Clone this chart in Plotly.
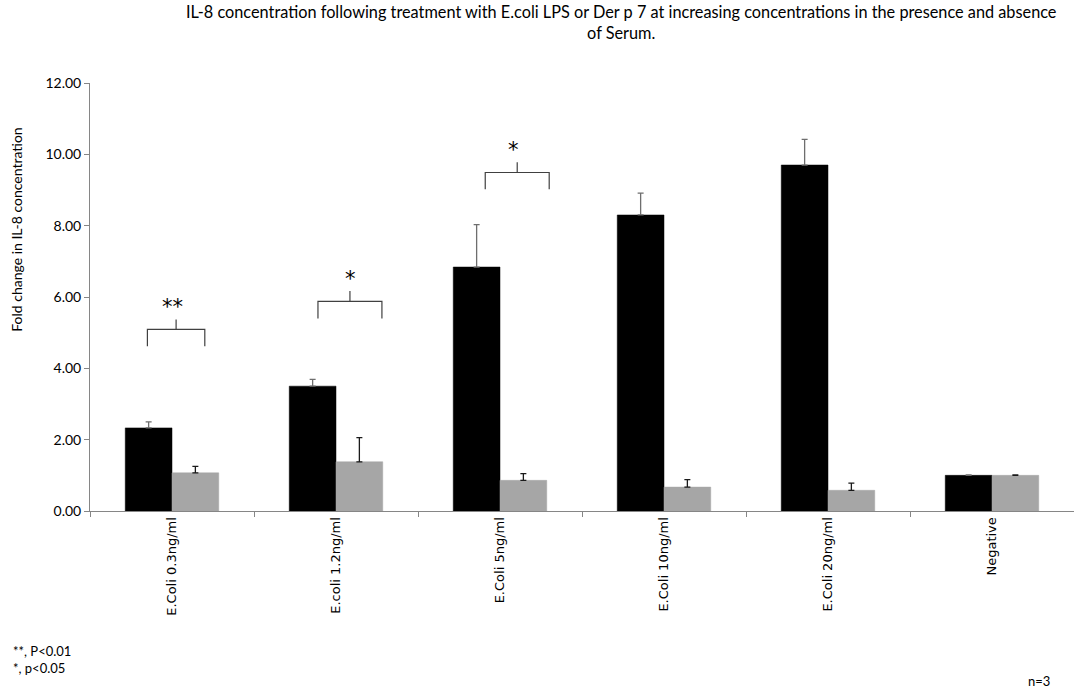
import plotly.graph_objects as go

# Treatments on the x axis
categories = ["E.Coli 0.3ng/ml", "E.coli 1.2ng/ml", "E.Coli 5ng/ml",
              "E.Coli 10ng/ml", "E.Coli 20ng/ml", "Negative"]

# Fold change in IL-8 (mean) and standard error, with / without serum
with_serum = [2.33, 3.50, 6.84, 8.30, 9.70, 1.00]
with_serum_err = [0.17, 0.19, 1.19, 0.61, 0.72, 0.01]
without_serum = [1.07, 1.38, 0.86, 0.67, 0.58, 1.00]
without_serum_err = [0.18, 0.68, 0.19, 0.21, 0.20, 0.01]

y_ticks = [0, 2, 4, 6, 8, 10, 12]

# Significance brackets: (category index, left, right, bar level, leg bottom, tick top, star y, star x, label)
brackets = [
    (0, -0.15, 0.20, 5.09, 4.62, 5.37, 5.72, 0.00, "**"),
    (1, -0.11, 0.28, 5.88, 5.40, 6.17, 6.50, 0.09, "*"),
    (2, -0.09, 0.30, 9.49, 9.02, 9.78, 10.12, 0.08, "*"),
]

font_main = "Lato, 'Open Sans', sans-serif"

fig = go.Figure()
fig.add_trace(go.Bar(
    x=categories, y=with_serum, name="Serum",
    marker=dict(color="#000000", line=dict(color="#000000", width=0.5)),
    error_y=dict(type="data", array=with_serum_err, symmetric=False,
                 arrayminus=[0] * len(with_serum_err),
                 color="#6e6e6e", thickness=1.3, width=3),
))
fig.add_trace(go.Bar(
    x=categories, y=without_serum, name="No serum",
    marker=dict(color="#a6a6a6", line=dict(color="#a6a6a6", width=0.5)),
    error_y=dict(type="data", array=without_serum_err, symmetric=False,
                 arrayminus=[0] * len(without_serum_err),
                 color="#1a1a1a", thickness=1.3, width=3),
))

line_style = dict(color="#404040", width=1.2)
for idx, left, right, level, bottom, top, star_y, star_x, label in brackets:
    fig.add_shape(type="path", xref="x", yref="y", line=line_style,
                  path=f"M {idx + left} {bottom} L {idx + left} {level} "
                       f"L {idx + right} {level} L {idx + right} {bottom}")
    mid = idx + (left + right) / 2
    fig.add_shape(type="line", xref="x", yref="y", line=line_style,
                  x0=mid, x1=mid, y0=level, y1=top)
    fig.add_annotation(x=idx + star_x, y=star_y, xref="x", yref="y",
                       text=label, showarrow=False,
                       font=dict(family="DejaVu Sans", size=21, color="#000000"))

fig.add_annotation(
    x=0.5396, y=1.0, xref="paper", yref="paper", yshift=83, yanchor="top",
    text="IL-8 concentration following treatment with E.coli LPS or Der p 7 at increasing concentrations in the presence and absence<br>of Serum.",
    showarrow=False, align="center",
    font=dict(family=font_main, size=16.3, color="#000000"))

fig.add_annotation(
    x=0, y=0.656, xref="paper", yref="paper", xshift=-84,
    text="Fold change in IL-8 concentration", textangle=-90, showarrow=False,
    font=dict(family=font_main, size=14, color="#000000"))

fig.add_annotation(
    x=0, y=0, xref="paper", yref="paper", xshift=-79, yshift=-148,
    xanchor="left", yanchor="middle", align="left",
    text="**, P<0.01<br>*, p<0.05", showarrow=False,
    font=dict(family=font_main, size=13, color="#000000"))

fig.add_annotation(
    x=1, y=0, xref="paper", yref="paper", xshift=-22, yshift=-170,
    xanchor="right", yanchor="middle",
    text="n=3", showarrow=False,
    font=dict(family=font_main, size=13, color="#000000"))

fig.update_layout(
    width=1074, height=689,
    margin=dict(l=90, r=0, t=83, b=178),
    paper_bgcolor="#ffffff", plot_bgcolor="#ffffff",
    barmode="group", bargap=0.43, bargroupgap=0,
    showlegend=False,
    xaxis=dict(type="category", range=[-0.5, 5.5], tickson="boundaries",
               ticks="outside", ticklen=5, tickcolor="#868686",
               showline=True, linecolor="#868686", linewidth=1,
               tickangle=-90, showgrid=False,
               tickfont=dict(family="DejaVu Sans", size=13, color="#000000")),
    yaxis=dict(range=[0, 12], tickvals=y_ticks,
               ticktext=[f"{v:.2f}" for v in y_ticks],
               ticks="outside", ticklen=5, tickcolor="#868686",
               showline=True, linecolor="#868686", linewidth=1,
               showgrid=False, zeroline=False,
               tickfont=dict(family=font_main, size=14, color="#000000")),
)

fig.write_html("out.html")
